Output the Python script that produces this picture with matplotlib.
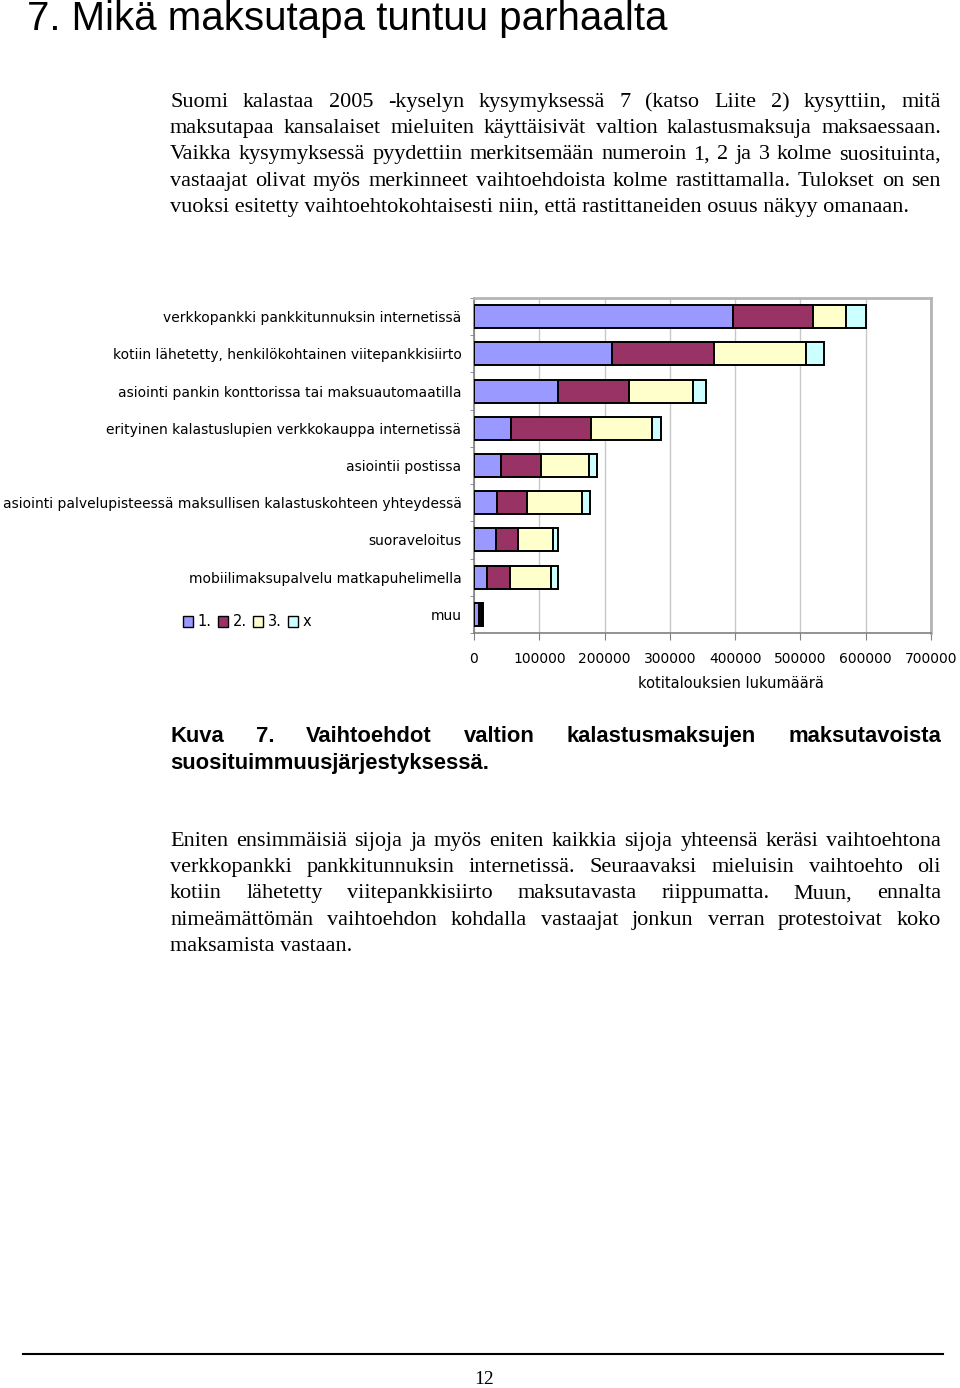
import numpy as np
import matplotlib
matplotlib.use('Agg')
import matplotlib.pyplot as plt
from matplotlib.patches import Patch
from matplotlib.lines import Line2D

# data: households per payment method, split by preference rank
categories = ['verkkopankki pankkitunnuksin internetissä',
              'kotiin lähetetty, henkilökohtainen viitepankkisiirto',
              'asiointi pankin konttorissa tai maksuautomaatilla',
              'erityinen kalastuslupien verkkokauppa internetissä',
              'asiointii postissa',
              'asiointi palvelupisteessä maksullisen kalastuskohteen yhteydessä',
              'suoraveloitus',
              'mobiilimaksupalvelu matkapuhelimella',
              'muu']
rank1 = [397000, 211000, 128000, 56000, 41000, 35000, 33000, 20000, 7000]
rank2 = [123000, 156000, 110000, 123000, 61000, 46000, 35000, 35000, 1500]
rank3 = [50000, 141000, 98000, 93000, 74000, 85000, 53000, 63000, 3500]
rank_x = [31000, 28000, 20000, 14000, 13000, 12000, 8000, 10000, 2000]
series_labels = ['1.', '2.', '3.', 'x']
colors = ['#9999ff', '#993366', '#ffffcc', '#ccffff']
xticks = [0, 100000, 200000, 300000, 400000, 500000, 600000, 700000]

para1 = ['Suomi kalastaa 2005 -kyselyn kysymyksessä 7 (katso Liite 2) kysyttiin, mitä',
         'maksutapaa kansalaiset mieluiten käyttäisivät valtion kalastusmaksuja maksaessaan.',
         'Vaikka kysymyksessä pyydettiin merkitsemään numeroin 1, 2 ja 3 kolme suosituinta,',
         'vastaajat olivat myös merkinneet vaihtoehdoista kolme rastittamalla. Tulokset on sen',
         'vuoksi esitetty vaihtoehtokohtaisesti niin, että rastittaneiden osuus näkyy omanaan.']
caption = ['Kuva 7. Vaihtoehdot valtion kalastusmaksujen maksutavoista',
           'suosituimmuusjärjestyksessä.']
para2 = ['Eniten ensimmäisiä sijoja ja myös eniten kaikkia sijoja yhteensä keräsi vaihtoehtona',
         'verkkopankki pankkitunnuksin internetissä. Seuraavaksi mieluisin vaihtoehto oli',
         'kotiin lähetetty viitepankkisiirto maksutavasta riippumatta. Muun, ennalta',
         'nimeämättömän vaihtoehdon kohdalla vastaajat jonkun verran protestoivat koko',
         'maksamista vastaan.']

W, H = 960, 1388
fig = plt.figure(figsize=(W / 100, H / 100), dpi=100)
renderer = fig.canvas.get_renderer()


def fx(px):
    return px / W


def fy(py):
    return 1 - py / H


def text_block(lines, y0, step, size, family, weight='normal', x0=170, x1=941):
    # justified paragraph, last line left aligned
    for i, line in enumerate(lines):
        y = fy(y0 + i * step)
        words = line.split(' ')
        if i == len(lines) - 1 or len(words) == 1:
            fig.text(fx(x0), y, line, fontsize=size, family=family,
                     weight=weight, va='baseline', ha='left')
            continue
        arts = [fig.text(0, y, w, fontsize=size, family=family, weight=weight,
                         va='baseline', ha='left') for w in words]
        widths = [a.get_window_extent(renderer).width for a in arts]
        gap = (x1 - x0 - sum(widths)) / (len(words) - 1)
        x = x0
        for a, w in zip(arts, widths):
            a.set_x(fx(x))
            x += w + gap


fig.text(fx(27), fy(30), '7. Mikä maksutapa tuntuu parhaalta', fontsize=29,
         family='Liberation Sans', va='baseline', ha='left')

text_block(para1, 107, 26.2, 16, 'Liberation Serif')
text_block(caption, 742, 27, 15.8, 'Liberation Sans', weight='bold')
text_block(para2, 846, 26.2, 16, 'Liberation Serif')

# chart
ax = fig.add_axes([fx(474), fy(633), fx(931) - fx(474), (633 - 298) / H])
y = np.arange(len(categories))
left = np.zeros(len(categories))
for vals, c in zip([rank1, rank2, rank3, rank_x], colors):
    ax.barh(y, vals, left=left, height=0.62, color=c, edgecolor='black',
            linewidth=1.4, zorder=3)
    left += np.array(vals)

ax.set_xlim(0, 700000)
ax.set_ylim(len(categories) - 0.5, -0.5)
ax.set_xticks(xticks)
ax.set_xticklabels([str(v) for v in xticks], fontsize=10, family='DejaVu Sans')
ax.set_yticks(y)
ax.set_yticklabels(categories, fontsize=10, family='DejaVu Sans')
ax.set_yticks(np.arange(len(categories) + 1) - 0.5, minor=True)
ax.tick_params(axis='y', which='major', length=0, pad=9)
ax.tick_params(axis='y', which='minor', length=3, color='#808080')
ax.tick_params(axis='x', length=5, pad=9, color='#808080')
ax.grid(axis='x', color='#c8c8c8', linewidth=1, zorder=0)
for s in ['top', 'right']:
    ax.spines[s].set_color('#b4b4b4')
    ax.spines[s].set_linewidth(2)
for s in ['left', 'bottom']:
    ax.spines[s].set_color('#808080')
    ax.spines[s].set_linewidth(1.2)

fig.text(fx(731), fy(683), 'kotitalouksien lukumäärä', fontsize=10.5,
         family='DejaVu Sans', ha='center', va='center')

handles = [Patch(facecolor=c, edgecolor='black', linewidth=1) for c in colors]
fig.legend(handles, series_labels, loc='center left',
           bbox_to_anchor=(fx(177), fy(622)), ncol=4, frameon=False,
           fontsize=10.5, handlelength=0.7, handleheight=0.7,
           handletextpad=0.3, columnspacing=0.45, borderaxespad=0)

# page footer
fig.add_artist(Line2D([fx(23), fx(943)], [fy(1354), fy(1354)], color='black',
                      linewidth=1.5))
fig.text(fx(484), fy(1379), '12', fontsize=14, family='Liberation Serif',
         ha='center', va='center')

fig.savefig('out.png', dpi=100)
